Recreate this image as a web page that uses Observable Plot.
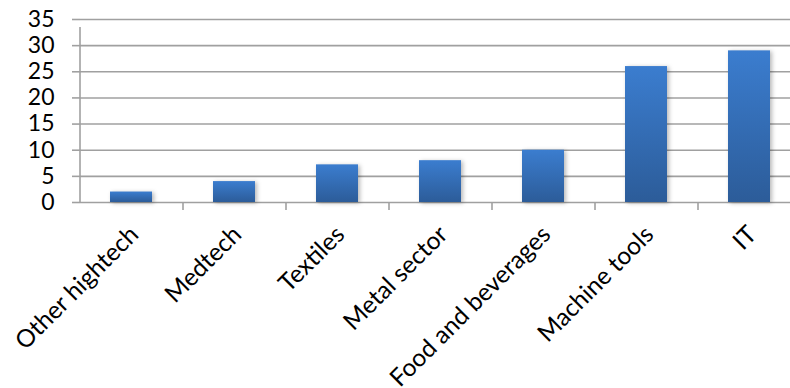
<!DOCTYPE html>
<html>
<head>
<meta charset="utf-8">
<script src="https://cdn.jsdelivr.net/npm/d3@7"></script>
<script src="https://cdn.jsdelivr.net/npm/@observablehq/plot@0.6"></script>
<style>
  html, body { margin: 0; padding: 0; background: #fff; }
  #chart { width: 790px; height: 388px; overflow: hidden; }
</style>
</head>
<body>
<div id="chart"></div>
<script>
const categories = ["Other hightech", "Medtech", "Textiles", "Metal sector", "Food and beverages", "Machine tools", "IT"];
const values = [2, 4, 7.2, 8, 10, 26, 29];
const yTicks = [0, 5, 10, 15, 20, 25, 30, 35];

const data = categories.map((c, i) => ({category: c, value: values[i]}));

const W = 790, H = 388;
const mL = 80, mR = -11, mT = 19, mB = 186;
const step = (W - mL - mR) / categories.length;
const gridColor = "#a0a0a0";

const chart = Plot.plot({
  width: W,
  height: H,
  marginLeft: mL,
  marginRight: mR,
  marginTop: mT,
  marginBottom: mB,
  style: {fontFamily: "Lato, 'Open Sans', sans-serif", fontSize: "23px", color: "#000", background: "#fff", overflow: "visible"},
  x: {domain: categories, paddingInner: 0.59, paddingOuter: 0.295, label: null},
  y: {domain: [0, 35], ticks: yTicks, label: null},
  marks: [
    Plot.gridY(yTicks, {stroke: gridColor, strokeOpacity: 1, strokeWidth: 1.6}),
    Plot.axisY(yTicks, {tickSize: 8, tickPadding: 18, stroke: gridColor, strokeWidth: 1.6, fontSize: 23, fill: "#000", label: null}),
    Plot.ruleX([categories[0]], {x: d => d, dx: -step / 2, y1: 0, y2: 35, stroke: gridColor, strokeWidth: 1.6, insetBottom: -8}),
    Plot.ruleX(categories.slice(1), {x: d => d, dx: -step / 2, y1: 0, y2: 0, stroke: gridColor, strokeWidth: 1.6, insetBottom: -8}),
    Plot.barY(data, {x: "category", y: "value", fill: "#3b7dcf"}),
    Plot.axisX({tickSize: 0, tickRotate: -45, tickPadding: 28, dx: 3, fontSize: 24.5, fill: "#000", label: null, textAnchor: "end"})
  ]
});

const svg = d3.select(chart);
const defs = svg.insert("defs", ":first-child");
const grad = defs.append("linearGradient").attr("id", "barGrad").attr("x1", 0).attr("y1", 0).attr("x2", 0).attr("y2", 1);
grad.append("stop").attr("offset", "0%").attr("stop-color", "#3b7dcf");
grad.append("stop").attr("offset", "100%").attr("stop-color", "#2c5c99");
svg.selectAll("g[aria-label='bar'] rect")
  .attr("fill", "url(#barGrad)")
  .style("filter", "drop-shadow(2px 1px 2px rgba(0,0,0,0.28))");
svg.selectAll("g[aria-label='bar']").attr("fill", "url(#barGrad)");

document.getElementById("chart").appendChild(chart);
</script>
</body>
</html>
